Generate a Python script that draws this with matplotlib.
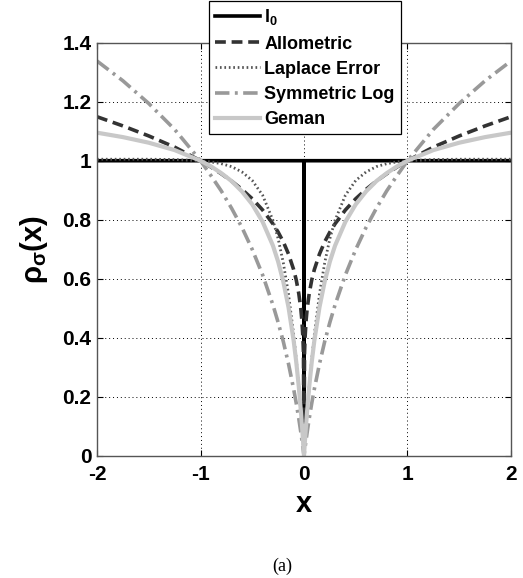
import matplotlib
matplotlib.use("Agg")
import matplotlib.pyplot as plt

plt.rcParams['font.family'] = ['Liberation Sans', 'DejaVu Sans']
plt.rcParams['font.weight'] = 'bold'
plt.rcParams['axes.unicode_minus'] = False
plt.rcParams['mathtext.fontset'] = 'custom'
plt.rcParams['mathtext.rm'] = 'Liberation Sans:bold'
plt.rcParams['mathtext.it'] = 'Liberation Sans:bold'
plt.rcParams['mathtext.bf'] = 'Liberation Sans:bold'

# sample positions along x
x = [-2.0, -1.75, -1.5, -1.25, -1.0, -0.9, -0.8, -0.7, -0.6, -0.5, -0.4, -0.3, -0.25, -0.2,
     -0.15, -0.1, -0.075, -0.05, -0.03, -0.02, -0.01, -0.005, 0.0,
     0.005, 0.01, 0.02, 0.03, 0.05, 0.075, 0.1, 0.15, 0.2, 0.25, 0.3, 0.4, 0.5, 0.6,
     0.7, 0.8, 0.9, 1.0, 1.25, 1.5, 1.75, 2.0]

l0_x = [-2.0, -0.0001, 0.0, 0.0001, 2.0]
l0_y = [1.0, 1.0, 0.0, 1.0, 1.0]

allometric = [1.149, 1.118, 1.084, 1.046, 1.0, 0.979, 0.956, 0.931, 0.903, 0.871, 0.833, 0.786, 0.758, 0.725,
              0.684, 0.631, 0.596, 0.549, 0.496, 0.457, 0.398, 0.347, 0.0,
              0.347, 0.398, 0.457, 0.496, 0.549, 0.596, 0.631, 0.684, 0.725, 0.758, 0.786, 0.833, 0.871, 0.903,
              0.931, 0.956, 0.979, 1.0, 1.046, 1.084, 1.118, 1.149]

laplace = [1.005, 1.005, 1.005, 1.004, 1.0, 0.996, 0.990, 0.980, 0.962, 0.933, 0.883, 0.798, 0.736, 0.654,
           0.549, 0.411, 0.328, 0.232, 0.147, 0.100, 0.052, 0.026, 0.0,
           0.026, 0.052, 0.100, 0.147, 0.232, 0.328, 0.411, 0.549, 0.654, 0.736, 0.798, 0.883, 0.933, 0.962,
           0.980, 0.990, 0.996, 1.0, 1.004, 1.005, 1.005, 1.005]

symlog = [1.338, 1.271, 1.194, 1.106, 1.0, 0.950, 0.898, 0.839, 0.774, 0.699, 0.613, 0.511, 0.452, 0.387,
          0.312, 0.226, 0.178, 0.125, 0.078, 0.053, 0.027, 0.014, 0.0,
          0.014, 0.027, 0.053, 0.078, 0.125, 0.178, 0.226, 0.312, 0.387, 0.452, 0.511, 0.613, 0.699, 0.774,
          0.839, 0.898, 0.950, 1.0, 1.106, 1.194, 1.271, 1.338]

geman = [1.095, 1.080, 1.061, 1.036, 1.0, 0.981, 0.958, 0.931, 0.896, 0.852, 0.793, 0.712, 0.658, 0.590,
         0.504, 0.390, 0.318, 0.233, 0.151, 0.105, 0.055, 0.028, 0.0,
         0.028, 0.055, 0.105, 0.151, 0.233, 0.318, 0.390, 0.504, 0.590, 0.658, 0.712, 0.793, 0.852, 0.896,
         0.931, 0.958, 0.981, 1.0, 1.036, 1.061, 1.080, 1.095]

xticks = [-2, -1, 0, 1, 2]
yticks = [0, 0.2, 0.4, 0.6, 0.8, 1.0, 1.2, 1.4]
ytick_labels = ['0', '0.2', '0.4', '0.6', '0.8', '1', '1.2', '1.4']

fig = plt.figure(figsize=(5.23, 5.78), dpi=100)
ax = fig.add_axes([0.1855, 0.2116, 0.7915, 0.7145])

ax.plot(l0_x, l0_y, color='black', lw=2.6, label='l$_0$')
ax.plot(x, allometric, color='#333333', lw=2.6, ls=(0, (3, 1.6)), label='Allometric')
ax.plot(x, laplace, color='#555555', lw=2.0, ls=(0, (0.6, 1.0)), label='Laplace Error')
ax.plot(x, symlog, color='#999999', lw=2.6, ls=(0, (4, 1.5, 0.8, 1.5)), label='Symmetric Log')
ax.plot(x, geman, color='#c8c8c8', lw=3.0, label='Geman')

ax.set_xlim(-2, 2)
ax.set_ylim(0, 1.4)
ax.set_xticks(xticks)
ax.set_yticks(yticks)
ax.set_yticklabels(ytick_labels)
ax.tick_params(labelsize=15, direction='in', top=True, right=True, length=4, width=0.8)
ax.tick_params(axis='x', pad=7)
ax.tick_params(axis='y', pad=4)
ax.grid(True, color='black', ls=(0, (1, 3)), lw=0.7)
for s in ax.spines.values():
    s.set_color('#555555')
    s.set_linewidth(1.0)

ax.set_xlabel('x', fontsize=21, fontweight='bold', labelpad=4)
ax.set_ylabel(r'$\rho_\sigma$(x)', fontsize=21, fontweight='bold', labelpad=9)

leg = ax.legend(loc='upper center', bbox_to_anchor=(0.583, 0.998), bbox_transform=fig.transFigure,
                fontsize=13, handlelength=2.5, handletextpad=0.2, labelspacing=0.45,
                borderpad=0.35, borderaxespad=0, fancybox=False, framealpha=1, edgecolor='black')
leg.get_frame().set_linewidth(0.9)

fig.text(0.54, 0.013, '(a)', fontsize=13, family='Liberation Serif', fontweight='normal', ha='center')

fig.savefig('out.png', dpi=100)
